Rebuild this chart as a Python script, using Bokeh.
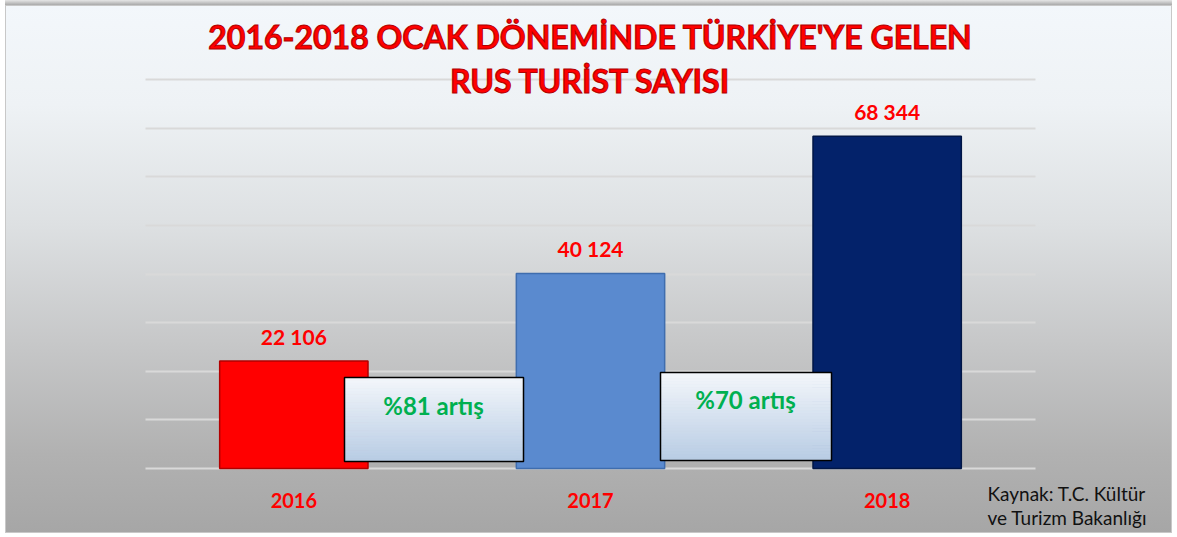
from bokeh.plotting import figure
from bokeh.models import (Range1d, SingleIntervalTicker, ColumnDataSource, LabelSet, Label)
from bokeh.embed import file_html
from bokeh.resources import INLINE
from bokeh.core.properties import value

# ---------------- data ----------------
years = ["2016", "2017", "2018"]
tourists = [22106, 40124, 68344]
bar_colors = ["#FF0000", "#5A8ACF", "#03226A"]
bar_edges = ["#B00000", "#3F6DAE", "#011646"]
growth_labels = ["%81 artış", "%70 artış"]
title_lines = ["2016-2018 OCAK DÖNEMİNDE TÜRKİYE'YE GELEN", "RUS TURİST SAYISI"]
source_lines = ["Kaynak: T.C. Kültür", "ve Turizm Bakanlığı"]
y_step = 10000
y_max = 80000

# ---------------- layout (pixels) ----------------
W, H = 1172, 533
PL, PR, PT, PB = 145, 1035, 79, 468          # chart area in canvas pixels
ncat = len(years)
ux = (PR - PL) / ncat                        # px per x unit
uy = y_max / (PB - PT)                       # data units per px
x0, x1 = -PL / ux, ncat + (W - PR) / ux
y0, y1 = -(H - PB) * uy, y_max + PT * uy

def X(px):
    return (px - PL) / ux

def Y(py):
    return (PB - py) * uy

p = figure(width=W, height=H, output_backend="svg", toolbar_location=None,
           x_range=Range1d(x0, x1), y_range=Range1d(y0, y1), min_border=0)
p.title.visible = False
p.background_fill_color = None
p.border_fill_color = None
p.outline_line_color = None
p.xaxis.visible = False
p.yaxis.visible = False
p.xgrid.visible = False

bd = "#C8C8C8"
p.styles = {
    "background": ", ".join([
        f"linear-gradient({bd},{bd}) 5px 5px / 1px calc(100% - 5px) no-repeat",
        f"linear-gradient({bd},{bd}) 5px 5px / calc(100% - 5px) 1px no-repeat",
        f"linear-gradient({bd},{bd}) right 0px top 5px / 1px calc(100% - 5px) no-repeat",
        f"linear-gradient({bd},{bd}) 5px bottom / calc(100% - 5px) 1px no-repeat",
        "linear-gradient(to bottom, #F3F7FB 0px, #EEF2F5 100px, #DDE0E2 220px, #C6C7C8 340px, #B1B1B1 450px, #A6A6A6 528px) 5px 5px / calc(100% - 5px) calc(100% - 5px) no-repeat",
        "linear-gradient(to bottom, #E6E6E6, #A9A9A9) 5px 0px / calc(100% - 5px) 5px no-repeat",
        "#FFFFFF",
    ]),
}

# horizontal grid lines limited to the chart area
p.ygrid.ticker = SingleIntervalTicker(interval=y_step)
p.ygrid.bounds = (0, y_max)
p.ygrid.cross_bounds = (0, ncat)
p.ygrid.grid_line_color = "#D9D9D9"
p.ygrid.grid_line_width = 2

# bars
xs = [i + 0.5 for i in range(ncat)]
src = ColumnDataSource(dict(
    x=xs, top=tourists, color=bar_colors, edge=bar_edges,
    label=[f"{v:,}".replace(",", " ") for v in tourists],
    zero=[0] * ncat, year=years,
))
p.vbar(x="x", top="top", bottom=0, width=0.5, source=src,
       fill_color="color", line_color="edge", line_width=1.5)

# value labels
p.add_layout(LabelSet(x="x", y="top", text="label", source=src, y_offset=25,
                      text_align="center", text_baseline="middle",
                      text_color="#FF0000", text_font=value("Lato"),
                      text_font_style="bold", text_font_size="21px"))
# category labels
p.add_layout(LabelSet(x="x", y="zero", text="year", source=src, y_offset=-32,
                      text_align="center", text_baseline="middle",
                      text_color="#FF0000", text_font=value("Lato"),
                      text_font_style="bold", text_font_size="20px"))

# growth boxes (annotation geometry in pixels)
boxes = [
    dict(l=344, r=523, t=377, b=461, tx=433, ty=405),
    dict(l=660, r=831, t=372, b=460, tx=745, ty=399),
]
top_c = (0xF4, 0xF7, 0xFB)
bot_c = (0xB8, 0xCC, 0xE4)
n = 30
for bx, txt in zip(boxes, growth_labels):
    lefts, rights, tops, bottoms, cols = [], [], [], [], []
    for k in range(n):
        f = (k + 0.5) / n
        c = tuple(int(round(top_c[j] + (bot_c[j] - top_c[j]) * f)) for j in range(3))
        pt = bx["t"] + (bx["b"] - bx["t"]) * k / n
        pb = bx["t"] + (bx["b"] - bx["t"]) * (k + 1) / n
        lefts.append(X(bx["l"])); rights.append(X(bx["r"]))
        tops.append(Y(pt)); bottoms.append(Y(pb))
        cols.append("#%02x%02x%02x" % c)
    p.quad(left=lefts, right=rights, top=tops, bottom=bottoms,
           fill_color=cols, line_color=cols, line_width=1)
    p.quad(left=[X(bx["l"])], right=[X(bx["r"])], top=[Y(bx["t"])], bottom=[Y(bx["b"])],
           fill_color=None, line_color="#000000", line_width=1.5)
    p.add_layout(Label(x=X(bx["tx"]), y=Y(bx["ty"]), text=txt, text_align="center",
                       text_baseline="middle", text_color="#00B050",
                       text_font="Lato", text_font_style="bold",
                       text_font_size="24px"))

# title (two lines)
for txt, py in zip(title_lines, [35.5, 80]):
    p.add_layout(Label(x=X(590), y=Y(py), text=txt, text_align="center",
                       text_baseline="middle", text_color="#FF0000",
                       text_font="Lato", text_font_style="bold",
                       text_font_size="32px",
                       text_outline_color="#B00000"))

# source note
for txt, py in zip(source_lines, [493, 517]):
    p.add_layout(Label(x=X(987), y=Y(py), text=txt, text_align="left",
                       text_baseline="middle", text_color="#111111",
                       text_font="Lato", text_font_size="19px"))

open("out.html", "w").write(file_html(p, INLINE))
